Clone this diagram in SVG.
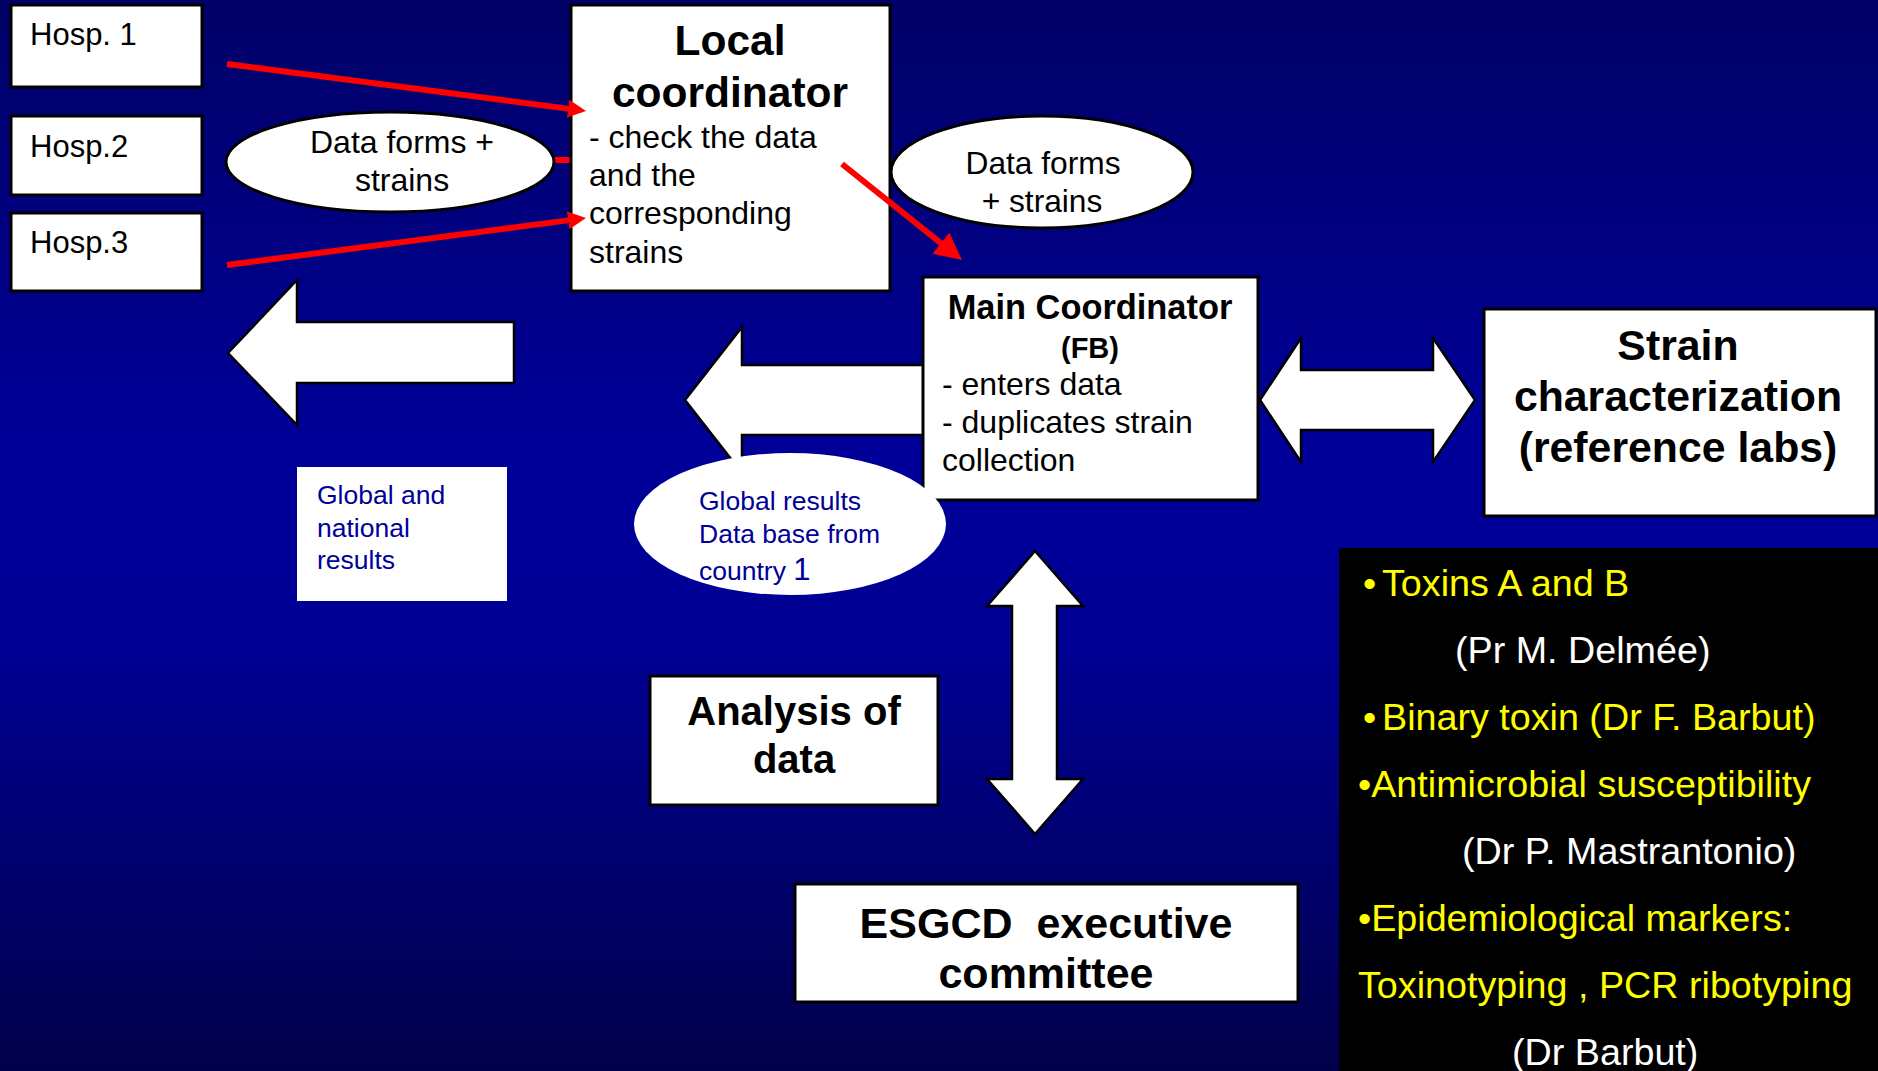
<svg xmlns="http://www.w3.org/2000/svg" width="1878" height="1071" viewBox="0 0 1878 1071">
<defs>
<linearGradient id="bg" x1="0" y1="0" x2="0" y2="1">
<stop offset="0" stop-color="#000066"/>
<stop offset="0.42" stop-color="#000099"/>
<stop offset="0.6" stop-color="#000094"/>
<stop offset="1" stop-color="#00004a"/>
</linearGradient>
<marker id="headS" viewBox="0 0 10 10" refX="4" refY="5" markerWidth="3" markerHeight="3" orient="auto" markerUnits="strokeWidth">
<path d="M0,0 L10,5 L0,10 z" fill="#ff0000"/>
</marker>
<marker id="headL" viewBox="0 0 10 10" refX="4" refY="5" markerWidth="4.5" markerHeight="4.5" orient="auto" markerUnits="strokeWidth">
<path d="M0,0 L10,5 L0,10 z" fill="#ff0000"/>
</marker>
</defs>
<style>
.box{fill:#ffffff;stroke:#000000;stroke-width:3}
.plain{fill:#ffffff;stroke:none}
.bigarrow{fill:#ffffff;stroke:#000000;stroke-width:2.5;stroke-linejoin:miter}
.red{stroke:#ff0000;stroke-width:6;fill:none}
.t{font-family:"Liberation Sans",Arial,sans-serif;fill:#000000}
.b{font-weight:bold}
.blue{fill:#000099}
.yel{fill:#ffff00}
.wht{fill:#ffffff}
.pre{white-space:pre}
.pan{font-size:37.7px}
</style>
<rect x="0" y="0" width="1878" height="1071" fill="url(#bg)"/>

<g id="connectors">
<line class="red" x1="400" y1="160" x2="571" y2="160"/>
</g>

<g id="hosp1"><rect class="box" x="11" y="5" width="191" height="82"/><text class="t" x="30" y="45" font-size="31">Hosp. 1</text></g>
<g id="hosp2"><rect class="box" x="11" y="116" width="191" height="79"/><text class="t" x="30" y="157" font-size="31">Hosp.2</text></g>
<g id="hosp3"><rect class="box" x="11" y="213" width="191" height="78"/><text class="t" x="30" y="253" font-size="31">Hosp.3</text></g>

<g id="local-coordinator">
<rect class="box" x="571" y="5" width="319" height="286"/>
<text class="t b" x="730" y="55" font-size="42.5" text-anchor="middle">Local</text>
<text class="t b" x="730" y="107" font-size="42.5" text-anchor="middle">coordinator</text>
<text class="t" x="589" y="148" font-size="32">- check the data</text>
<text class="t" x="589" y="186" font-size="32">and the</text>
<text class="t" x="589" y="224" font-size="32">corresponding</text>
<text class="t" x="589" y="263" font-size="32">strains</text>
</g>

<g id="ellipse-data-forms-1">
<ellipse class="box" cx="390" cy="162" rx="164" ry="50"/>
<text class="t" x="402" y="153" font-size="32" text-anchor="middle">Data forms +</text>
<text class="t" x="402" y="191" font-size="32" text-anchor="middle">strains</text>
</g>

<g id="ellipse-data-forms-2">
<ellipse class="box" cx="1042" cy="172" rx="151" ry="56"/>
<text class="t" x="1043" y="174" font-size="31.7" text-anchor="middle">Data forms</text>
<text class="t" x="1042" y="212" font-size="31.7" text-anchor="middle">+ strains</text>
</g>

<g id="red-arrows">
<line class="red" x1="227" y1="64" x2="575.3" y2="109.6" marker-end="url(#headS)"/>
<line class="red" x1="227" y1="265" x2="575.3" y2="219.4" marker-end="url(#headS)"/>
<line class="red" x1="842" y1="164" x2="949.3" y2="249.9" marker-end="url(#headL)"/>
</g>

<g id="arrow-results-left">
<polygon class="bigarrow" points="228,353 297,280 297,322 514,322 514,383 297,383 297,425"/>
</g>
<g id="arrow-results-mid">
<polygon class="bigarrow" points="685,400 742,327 742,365 940,365 940,435 742,435 742,473"/>
</g>

<g id="main-coordinator">
<rect class="box" x="923" y="277" width="335" height="223"/>
<text class="t b" x="1090" y="319" font-size="34.4" text-anchor="middle">Main Coordinator</text>
<text class="t b" x="1090" y="358" font-size="29" text-anchor="middle">(FB)</text>
<text class="t" x="942" y="395" font-size="32">- enters data</text>
<text class="t" x="942" y="433" font-size="32">- duplicates strain</text>
<text class="t" x="942" y="471" font-size="32">collection</text>
</g>

<g id="arrow-strain">
<polygon class="bigarrow" points="1260,400 1301,338 1301,370 1433,370 1433,338 1475,400 1433,462 1433,430 1301,430 1301,462"/>
</g>

<g id="strain-characterization">
<rect class="box" x="1484" y="309" width="392" height="207"/>
<text class="t b" x="1678" y="360" font-size="42.8" text-anchor="middle">Strain</text>
<text class="t b" x="1678" y="411" font-size="42.8" text-anchor="middle">characterization</text>
<text class="t b" x="1678" y="462" font-size="42.8" text-anchor="middle">(reference labs)</text>
</g>

<g id="global-national">
<rect class="plain" x="297" y="467" width="210" height="134"/>
<text class="t blue" x="317" y="504" font-size="26.5">Global and</text>
<text class="t blue" x="317" y="537" font-size="26.5">national</text>
<text class="t blue" x="317" y="569" font-size="26.5">results</text>
</g>

<g id="global-results">
<ellipse class="plain" cx="790" cy="524" rx="156" ry="71"/>
<text class="t blue" x="699" y="510" font-size="26.5">Global results</text>
<text class="t blue" x="699" y="543" font-size="26.5">Data base from</text>
<text class="t blue" x="699" y="580" font-size="26.5">country <tspan font-size="31">1</tspan></text>
</g>

<g id="arrow-vertical">
<polygon class="bigarrow" points="1035,551 1083,606 1057,606 1057,779 1083,779 1035,834 987,779 1012,779 1012,606 987,606"/>
</g>

<g id="analysis">
<rect class="box" x="650" y="676" width="288" height="129"/>
<text class="t b" x="794" y="725" font-size="40" text-anchor="middle">Analysis of</text>
<text class="t b" x="794" y="773" font-size="40" text-anchor="middle">data</text>
</g>

<g id="esgcd">
<rect class="box" x="795" y="884" width="503" height="118"/>
<text class="t b pre" x="1046" y="938" font-size="43" text-anchor="middle">ESGCD  executive</text>
<text class="t b" x="1046" y="988" font-size="43" text-anchor="middle">committee</text>
</g>

<g id="panel">
<rect x="1339" y="548" width="539" height="523" fill="#000000"/>
<text class="t yel pan" x="1363" y="596">•</text><text class="t yel pan" x="1382" y="596">Toxins A and B</text>
<text class="t wht pan" x="1455" y="663">(Pr M. Delmée)</text>
<text class="t yel pan" x="1363" y="730">•</text><text class="t yel pan" x="1382" y="730">Binary toxin (Dr F. Barbut)</text>
<text class="t yel pan" x="1358" y="797">•Antimicrobial susceptibility</text>
<text class="t wht pan" x="1462" y="864">(Dr P. Mastrantonio)</text>
<text class="t yel pan" x="1358" y="931">•Epidemiological markers:</text>
<text class="t yel pan" x="1358" y="998">Toxinotyping , PCR ribotyping</text>
<text class="t wht pan" x="1512" y="1065">(Dr Barbut)</text>
</g>
</svg>
